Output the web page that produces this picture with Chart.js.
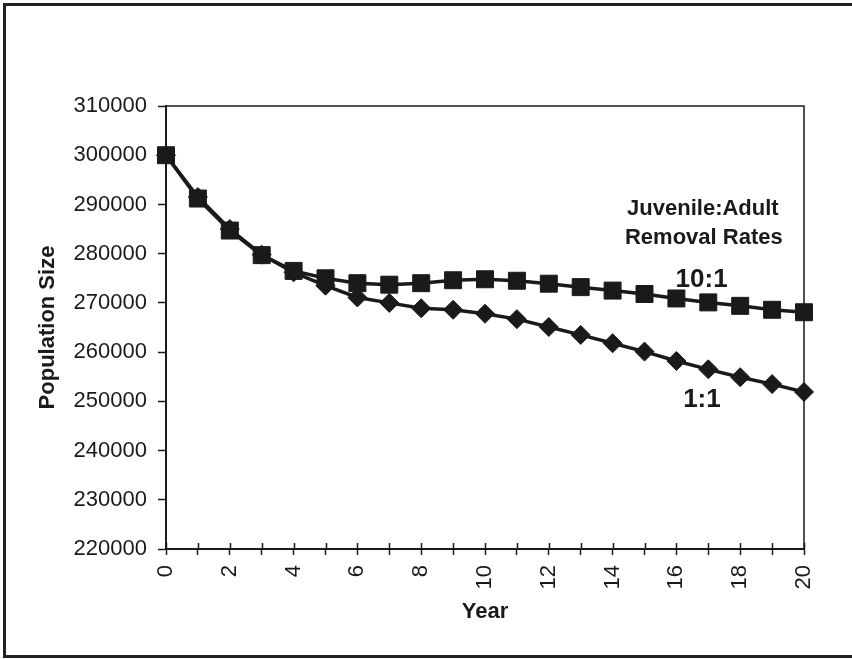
<!DOCTYPE html>
<html>
<head>
<meta charset="utf-8">
<script src="https://cdn.jsdelivr.net/npm/chart.js@4/dist/chart.umd.min.js"></script>
<style>
  html, body { margin: 0; padding: 0; background: #fff; }
  #wrap { width: 852px; height: 659px; position: relative; }
</style>
</head>
<body>
<div id="wrap"><canvas id="c" width="852" height="659"></canvas></div>
<script>
const years = [0,1,2,3,4,5,6,7,8,9,10,11,12,13,14,15,16,17,18,19,20];
const ratio10to1 = [300000, 291200, 284700, 279700, 276500, 275000, 274000, 273700, 274000, 274600, 274800, 274500, 273900, 273200, 272500, 271800, 270900, 270100, 269400, 268600, 268100];
const ratio1to1 = [300000, 291500, 285000, 279800, 276200, 273500, 271100, 270000, 268900, 268600, 267800, 266700, 265100, 263500, 261800, 260100, 258200, 256500, 254900, 253500, 251900];
const yTicks = [220000, 230000, 240000, 250000, 260000, 270000, 280000, 290000, 300000, 310000];
const seriesNames = ['10:1', '1:1'];
const legendTitle = ['Juvenile:Adult', 'Removal Rates'];

const INK = '#1a1a1a';
const FONT = '"Liberation Sans", Arial, sans-serif';

const decorPlugin = {
  id: 'decor',
  beforeDraw(chart) {
    const ctx = chart.ctx;
    ctx.save();
    ctx.fillStyle = '#fff';
    ctx.fillRect(0, 0, chart.width, chart.height);
    ctx.strokeStyle = '#222';
    ctx.lineWidth = 3;
    ctx.beginPath();
    ctx.moveTo(852, 4.5); ctx.lineTo(4.5, 4.5); ctx.lineTo(4.5, 656.5); ctx.lineTo(852, 656.5);
    ctx.stroke();
    ctx.restore();
  },
  afterDraw(chart) {
    const ctx = chart.ctx;
    const a = chart.chartArea;
    const xs = chart.scales.x, ys = chart.scales.y;
    ctx.save();
    ctx.strokeStyle = INK;
    ctx.lineWidth = 1.5;
    ctx.beginPath();
    ctx.moveTo(a.left, a.top); ctx.lineTo(a.right, a.top); ctx.lineTo(a.right, a.bottom);
    ctx.stroke();
    ctx.beginPath();
    years.forEach((y, i) => {
      const px = Math.round(xs.getPixelForValue(i)) + 0.5;
      ctx.moveTo(px, a.bottom); ctx.lineTo(px, a.bottom - 6);
    });
    ctx.stroke();
    ctx.fillStyle = INK;
    ctx.textAlign = 'center';
    ctx.textBaseline = 'middle';
    ctx.font = 'bold 22px ' + FONT;
    ctx.fillText(legendTitle[0], xs.getPixelForValue(16.83), ys.getPixelForValue(289100));
    ctx.fillText(legendTitle[1], xs.getPixelForValue(16.86), ys.getPixelForValue(283200));
    ctx.font = 'bold 26px ' + FONT;
    ctx.fillText(seriesNames[0], xs.getPixelForValue(16.79), ys.getPixelForValue(274600));
    ctx.fillText(seriesNames[1], xs.getPixelForValue(16.8), ys.getPixelForValue(250300));
    ctx.restore();
  }
};

new Chart(document.getElementById('c'), {
  type: 'line',
  data: {
    labels: years,
    datasets: [
      {
        label: seriesNames[0],
        data: ratio10to1,
        borderColor: INK,
        backgroundColor: INK,
        borderWidth: 3.5,
        pointStyle: 'rect',
        pointRadius: 12,
        pointBorderWidth: 1,
        pointBackgroundColor: INK,
        pointBorderColor: INK,
        tension: 0,
        fill: false
      },
      {
        label: seriesNames[1],
        data: ratio1to1,
        borderColor: INK,
        backgroundColor: INK,
        borderWidth: 3.5,
        pointStyle: 'rectRot',
        pointRadius: 9.5,
        pointBorderWidth: 1,
        pointBackgroundColor: INK,
        pointBorderColor: INK,
        tension: 0,
        fill: false
      }
    ]
  },
  options: {
    responsive: false,
    animation: false,
    devicePixelRatio: 1,
    layout: { padding: { top: 106, right: 48, left: 0, bottom: 0 } },
    plugins: {
      legend: { display: false },
      tooltip: { enabled: false },
      title: { display: false }
    },
    scales: {
      x: {
        type: 'category',
        offset: false,
        afterFit(scale) { scale.height = 110; },
        border: { display: true, color: INK, width: 2 },
        grid: { display: true, drawOnChartArea: false, drawTicks: true, tickLength: 6, tickWidth: 1.5, tickColor: INK, color: INK },
        ticks: {
          autoSkip: false,
          maxRotation: 90,
          minRotation: 90,
          padding: 10,
          color: INK,
          font: { family: FONT, size: 22 },
          callback: function(v, i) { return i % 2 === 0 ? String(years[i]) : ''; }
        },
        title: {
          display: true,
          text: 'Year',
          color: INK,
          font: { family: FONT, size: 22, weight: 'bold' },
          padding: { top: 0, bottom: 34 }
        }
      },
      y: {
        type: 'linear',
        min: yTicks[0],
        max: yTicks[yTicks.length - 1],
        afterFit(scale) { scale.width = 166; },
        afterBuildTicks(scale) { scale.ticks = yTicks.map(v => ({ value: v })); },
        border: { display: true, color: INK, width: 2 },
        grid: { display: true, drawOnChartArea: false, drawTicks: true, tickLength: 8, tickWidth: 1.5, tickColor: INK, color: INK },
        ticks: {
          padding: 11,
          color: INK,
          font: { family: FONT, size: 22 },
          callback: function(v) { return String(v); }
        },
        title: {
          display: true,
          text: 'Population Size',
          color: INK,
          font: { family: FONT, size: 22, weight: 'bold' },
          padding: { top: 35, bottom: 0 }
        }
      }
    }
  },
  plugins: [decorPlugin]
});
</script>
</body>
</html>
